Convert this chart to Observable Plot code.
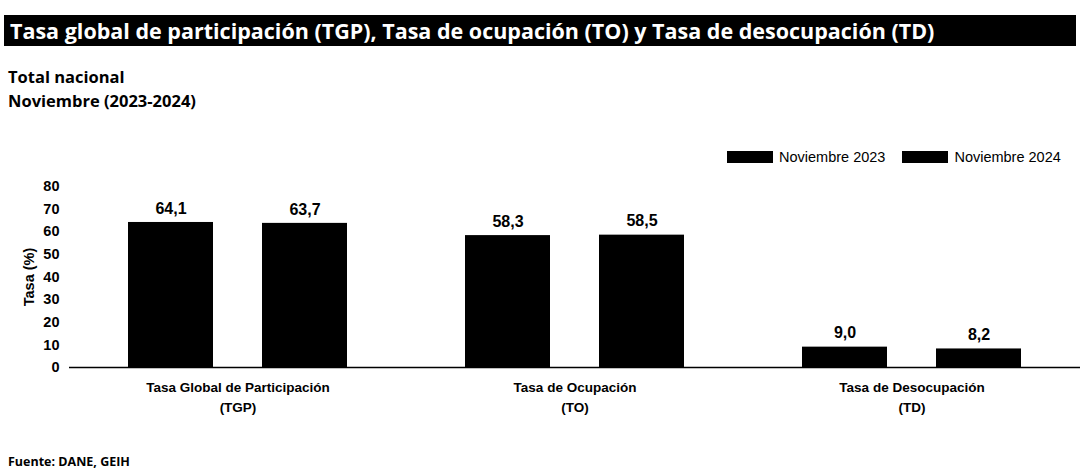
<!DOCTYPE html>
<html>
<head>
<meta charset="utf-8">
<script src="https://cdn.jsdelivr.net/npm/d3@7"></script>
<script src="https://cdn.jsdelivr.net/npm/@observablehq/plot@0.6"></script>
<style>
  html, body { margin: 0; padding: 0; background: #fff; }
  #wrap { position: relative; width: 1080px; height: 474px; overflow: hidden; background: #fff; }
  #title { position: absolute; left: 4px; top: 15px; width: 1066px; height: 31px; background: #000; color: #fff;
    font-family: "Open Sans", sans-serif; font-weight: 700; font-size: 21.5px; line-height: 31px; padding-left: 6px; white-space: nowrap; letter-spacing: 0px; }
  #subtitle { position: absolute; left: 8px; top: 65px; font-family: "Open Sans", sans-serif; font-weight: 700; font-size: 16.5px; line-height: 24px; color: #000; }
  #legend { position: absolute; left: 727px; top: 149px; font-family: "Liberation Sans", Arial, sans-serif; font-size: 14.5px; color: #000; display: flex; align-items: center; white-space: nowrap; }
  #legend .sw { display: inline-block; width: 46px; height: 12px; background: #000; margin-right: 6px; }
  #legend .item { display: flex; align-items: center; margin-right: 17px; }
  #chart { position: absolute; left: 0; top: 140px; }
  #footer { position: absolute; left: 8px; top: 453px; font-family: "Open Sans", sans-serif; font-weight: 700; font-size: 12.5px; color: #000; }
</style>
</head>
<body>
<div id="wrap">
  <div id="title"></div>
  <div id="subtitle"></div>
  <div id="legend"></div>
  <div id="chart"></div>
  <div id="footer"></div>
</div>
<script>
const titleText = "Tasa global de participación (TGP), Tasa de ocupación (TO) y Tasa de desocupación (TD)";
const subtitleLines = ["Total nacional", "Noviembre (2023-2024)"];
const footerText = "Fuente: DANE, GEIH";
const yLabel = "Tasa (%)";

const categories = ["TGP", "TO", "TD"];
const categoryLabels = ["Tasa Global de Participación\n(TGP)", "Tasa de Ocupación\n(TO)", "Tasa de Desocupación\n(TD)"];
const series = ["Noviembre 2023", "Noviembre 2024"];
const values2023 = [64.1, 58.3, 9.0];
const values2024 = [63.7, 58.5, 8.2];
const yTicks = [0, 10, 20, 30, 40, 50, 60, 70, 80];

document.getElementById("title").textContent = titleText;
document.getElementById("subtitle").innerHTML = subtitleLines.map(s => `<div>${s}</div>`).join("");
document.getElementById("footer").textContent = footerText;
document.getElementById("legend").innerHTML = series.map(s => `<span class="item"><span class="sw"></span>${s}</span>`).join("");

const data = [];
categories.forEach((c, i) => {
  data.push({cat: c, year: series[0], value: values2023[i]});
  data.push({cat: c, year: series[1], value: values2024[i]});
});
const fmt = v => v.toFixed(1).replace(".", ",");
const labelOf = c => categoryLabels[categories.indexOf(c)];

const chart = Plot.plot({
  width: 1080,
  height: 280,
  marginLeft: 68,
  marginRight: 0,
  marginTop: 46,
  marginBottom: 53,
  style: {fontFamily: "'Liberation Sans', Arial, sans-serif", background: "transparent", color: "#000"},
  fx: {domain: categories, padding: 0},
  x: {domain: series, paddingInner: 0.363, paddingOuter: 0.43, axis: null},
  y: {domain: [0, 80]},
  marks: [
    Plot.barY(data, {fx: "cat", x: "year", y: "value", fill: "#000"}),
    Plot.ruleY([0], {stroke: "#000", strokeWidth: 1.5}),
    Plot.text(data, {fx: "cat", x: "year", y: "value", text: d => fmt(d.value), dy: -14, fontSize: 16, fontWeight: "bold", fill: "#000"}),
    Plot.axisFx({anchor: "bottom", label: null, tickSize: 0, tickPadding: 11, lineHeight: 1.45,
      tickFormat: labelOf, fontSize: 13.5, fontWeight: "bold", lineAnchor: "top"}),
    Plot.axisY({ticks: yTicks, tickSize: 0, tickPadding: 10, fontSize: 14.5, fontWeight: "bold",
      label: yLabel, labelAnchor: "center", labelArrow: "none", labelOffset: 46})
  ]
});
document.getElementById("chart").appendChild(chart);
</script>
</body>
</html>
